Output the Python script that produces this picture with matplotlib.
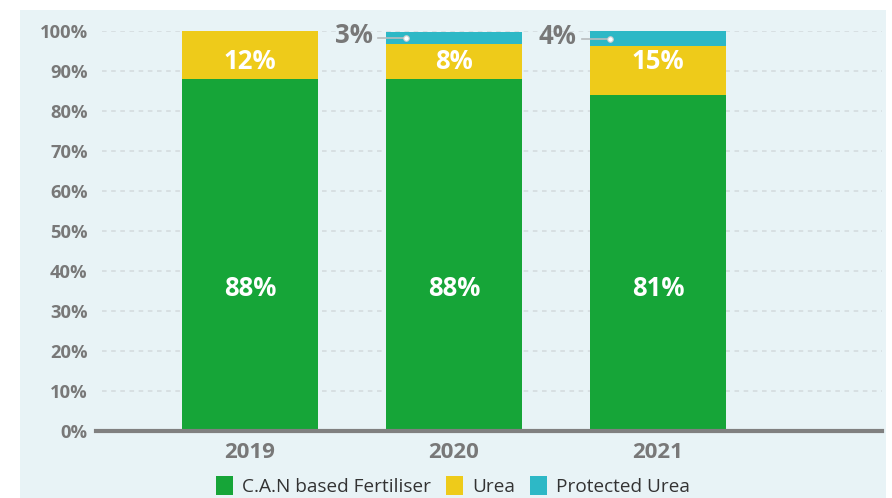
import matplotlib.pyplot as plt
from matplotlib.patches import Rectangle, Patch

years = ['2019', '2020', '2021']
can_share = [88, 88, 84]
urea_share = [12, 8.8, 12.2]
protected_share = [0, 3, 3.8]
can_labels = ['88%', '88%', '81%']
urea_labels = ['12%', '8%', '15%']
protected_labels = ['', '3%', '4%']
series_names = ['C.A.N based Fertiliser', 'Urea', 'Protected Urea']

green = '#16a538'
yellow = '#eecb1a'
teal = '#2db8c6'
grey = '#787878'

plt.rcParams['font.family'] = ['Open Sans', 'DejaVu Sans']

fig = plt.figure(figsize=(8.92, 4.98), dpi=100)
fig.patch.set_facecolor('white')
# light blue panel behind everything
fig.patches.append(Rectangle((20 / 892, 0), 866 / 892, 488 / 498, transform=fig.transFigure,
                             facecolor='#e8f3f6', edgecolor='none', zorder=-10))

ax = fig.add_axes([96 / 892, 67 / 498, 786 / 892, 400 / 498])
ax.set_facecolor('none')

x = list(range(len(years)))
w = 0.667
ax.bar(x, can_share, w, color=green, zorder=3)
ax.bar(x, urea_share, w, bottom=can_share, color=yellow, zorder=3)
bottom3 = [a + b for a, b in zip(can_share, urea_share)]
ax.bar(x, protected_share, w, bottom=bottom3, color=teal, zorder=3)

ax.set_xlim(-0.755, 3.098)
ax.set_ylim(0, 100)

for i in x:
    ax.text(i, 35.7, can_labels[i], ha='center', va='center', color='white',
            fontsize=18.5, fontweight='bold', zorder=5)
    ax.text(i, 92.3, urea_labels[i], ha='center', va='center', color='white',
            fontsize=18.5, fontweight='bold', zorder=5)
    if protected_labels[i]:
        ymid = bottom3[i] + protected_share[i] / 2
        left = i - w / 2
        dot_x = left + 20 / 204
        ax.plot([left - 0.04, dot_x], [ymid, ymid], color='#b8bcbe', lw=1.2,
                zorder=4, clip_on=False)
        ax.plot([dot_x], [ymid], 'o', ms=4, mfc='white', mec='#c8cccd', mew=0.8,
                zorder=6, clip_on=False)
        ax.text(left - 0.066, ymid + 0.5, protected_labels[i], ha='right', va='center',
                color=grey, fontsize=18.5, fontweight='bold', clip_on=False)

ax.set_yticks(range(0, 101, 10))
ax.set_yticklabels([f'{v}%' for v in range(0, 101, 10)])
ax.set_xticks(x)
ax.set_xticklabels(years)
ax.tick_params(axis='y', length=0, pad=6, labelsize=13.2, labelcolor=grey)
ax.tick_params(axis='x', length=0, pad=8, labelsize=16, labelcolor=grey)
for lab in ax.get_yticklabels() + ax.get_xticklabels():
    lab.set_fontweight('bold')

for v in range(10, 101, 10):
    ax.axhline(v, xmin=6 / 786, xmax=1, color='#d3d9dc', lw=1.1, ls=(0, (3, 3)), zorder=1)

for s in ['top', 'right', 'left']:
    ax.spines[s].set_visible(False)
ax.spines['bottom'].set_color('#808080')
ax.spines['bottom'].set_linewidth(3)
ax.spines['bottom'].set_zorder(4)

handles = [Patch(facecolor=c, edgecolor='none') for c in [green, yellow, teal]]
fig.legend(handles, series_names, loc='center', bbox_to_anchor=(453 / 892, 1 - 486 / 498),
           ncol=3, frameon=False, fontsize=13.7, labelcolor='#333333',
           handlelength=0.9, handleheight=1.2, handletextpad=0.45, columnspacing=0.8)

fig.savefig('out.png', dpi=100)
